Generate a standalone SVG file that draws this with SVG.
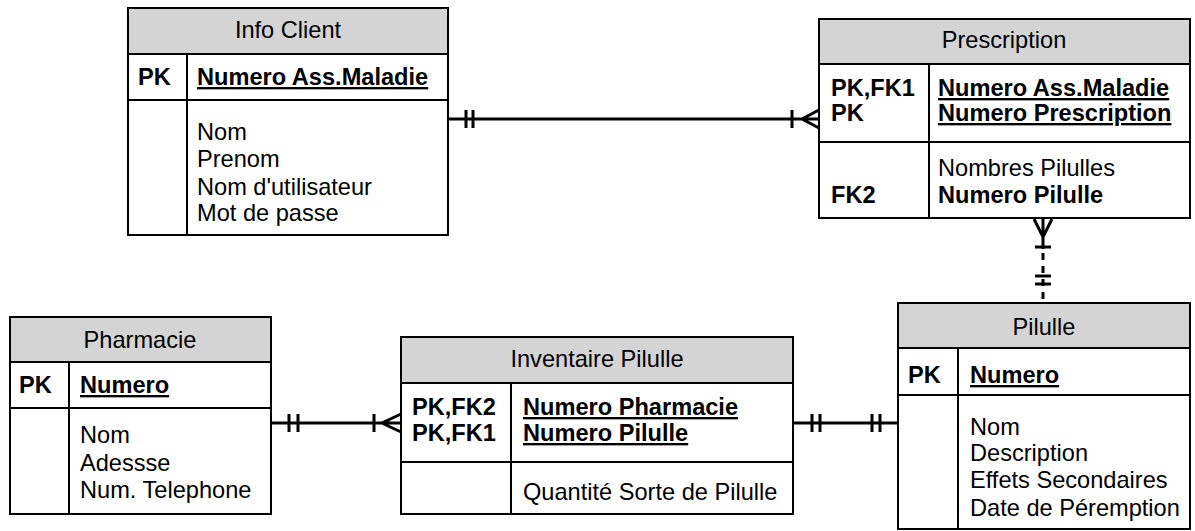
<svg xmlns="http://www.w3.org/2000/svg" width="1195" height="531" viewBox="0 0 1195 531">
<style>
.box{fill:#fff;stroke:#000;stroke-width:2}
.hdr{fill:#d4d4d4;stroke:#000;stroke-width:2}
.ln{stroke:#000;stroke-width:2;fill:none}
text{font-family:"Liberation Sans",Arial,sans-serif;font-size:23.6px;fill:#000}
.t{text-anchor:middle}
.b{font-weight:bold}
.u{font-weight:bold;text-decoration:underline}
.c{stroke:#000;stroke-width:3;fill:none}
</style>
<rect width="1195" height="531" fill="#fff"/>
<g id="info-client">
<rect class="box" x="128" y="8" width="320" height="227"/>
<rect class="hdr" x="128" y="8" width="320" height="46"/>
<line class="ln" x1="128" y1="100" x2="448" y2="100"/>
<line class="ln" x1="187" y1="54" x2="187" y2="235"/>
<text class="t" x="288" y="38">Info Client</text>
<text class="b" x="138" y="85">PK</text>
<text class="u" x="197" y="85">Numero Ass.Maladie</text>
<text x="197" y="140">Nom</text>
<text x="197" y="167">Prenom</text>
<text x="197" y="195">Nom d'utilisateur</text>
<text x="197" y="221">Mot de passe</text>
</g>
<g id="prescription">
<rect class="box" x="819" y="19" width="371" height="199"/>
<rect class="hdr" x="819" y="19" width="371" height="45"/>
<line class="ln" x1="819" y1="142" x2="1190" y2="142"/>
<line class="ln" x1="929" y1="64" x2="929" y2="218"/>
<text class="t" x="1004" y="48">Prescription</text>
<text class="b" x="831" y="96">PK,FK1</text>
<text class="b" x="831" y="121">PK</text>
<text class="u" x="938" y="96">Numero Ass.Maladie</text>
<text class="u" x="938" y="121">Numero Prescription</text>
<text x="938" y="176">Nombres Pilulles</text>
<text class="b" x="831" y="203">FK2</text>
<text class="b" x="938" y="203">Numero Pilulle</text>
</g>
<g id="pharmacie">
<rect class="box" x="10" y="317" width="261" height="197"/>
<rect class="hdr" x="10" y="317" width="261" height="45"/>
<line class="ln" x1="10" y1="408" x2="271" y2="408"/>
<line class="ln" x1="69" y1="362" x2="69" y2="514"/>
<text class="t" x="140" y="348">Pharmacie</text>
<text class="b" x="19" y="393">PK</text>
<text class="u" x="80" y="393">Numero</text>
<text x="80" y="443">Nom</text>
<text x="80" y="471">Adessse</text>
<text x="80" y="498">Num. Telephone</text>
</g>
<g id="inventaire-pilulle">
<rect class="box" x="401" y="337" width="392" height="177"/>
<rect class="hdr" x="401" y="337" width="392" height="46"/>
<line class="ln" x1="401" y1="462" x2="793" y2="462"/>
<line class="ln" x1="511" y1="383" x2="511" y2="514"/>
<text class="t" x="597" y="367">Inventaire Pilulle</text>
<text class="b" x="412" y="415">PK,FK2</text>
<text class="b" x="412" y="441">PK,FK1</text>
<text class="u" x="523" y="415">Numero Pharmacie</text>
<text class="u" x="523" y="441">Numero Pilulle</text>
<text x="523" y="500">Quantité Sorte de Pilulle</text>
</g>
<g id="pilulle">
<rect class="box" x="898" y="303" width="292" height="226"/>
<rect class="hdr" x="898" y="303" width="292" height="45"/>
<line class="ln" x1="898" y1="395" x2="1190" y2="395"/>
<line class="ln" x1="958" y1="348" x2="958" y2="529"/>
<text class="t" x="1044" y="335">Pilulle</text>
<text class="b" x="908" y="383">PK</text>
<text class="u" x="970" y="383">Numero</text>
<text x="970" y="435">Nom</text>
<text x="970" y="461">Description</text>
<text x="970" y="488">Effets Secondaires</text>
<text x="970" y="516">Date de Péremption</text>
</g>
<g id="connectors">
<path class="c" d="M448,119H819M466,110V128M473,110V128M792,110V128M819,110L802,119L819,128"/>
<path class="c" d="M271,423H401M289,414V432M298,414V432M374,414V432M401,414L382,423L401,432"/>
<path class="c" d="M793,423H898M812,414V432M820,414V432M872,414V432M880,414V432"/>
<path class="c" d="M1043,219V249M1034,219L1043,237L1052,219M1035,247H1051M1035,276H1051M1035,284H1051"/>
<path class="c" d="M1043,249V303" stroke-dasharray="7,6" stroke-dashoffset="-4"/>
</g>
</svg>
